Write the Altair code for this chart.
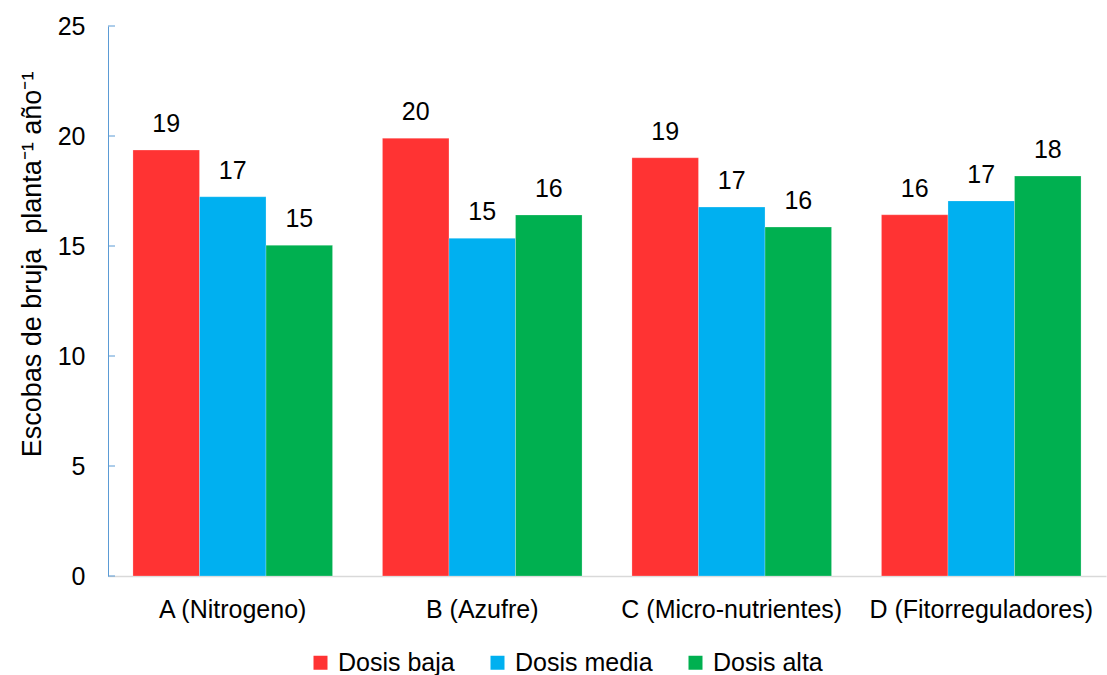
import altair as alt
import pandas as pd

# Treatments (x categories), dose levels (series) and values per dose
categories = ["A (Nitrogeno)", "B (Azufre)", "C (Micro-nutrientes)", "D (Fitorreguladores)"]
doses = ["Dosis baja", "Dosis media", "Dosis alta"]
dosis_baja = [19.36, 19.90, 19.01, 16.42]
dosis_media = [17.24, 15.35, 16.77, 17.05]
dosis_alta = [15.03, 16.41, 15.86, 18.18]
y_ticks = [0, 5, 10, 15, 20, 25]
colors = ["#FF3333", "#00B0F0", "#00B050"]

rows = []
for series, vals in zip(doses, [dosis_baja, dosis_media, dosis_alta]):
    for cat, v in zip(categories, vals):
        rows.append({"Tratamiento": cat, "Dosis": series, "Valor": v})
df = pd.DataFrame(rows)
ticks_df = pd.DataFrame({"t": y_ticks})

FONT = "Liberation Sans"
FS = 25
W, H = 998, 550

x_enc = alt.X(
    "Tratamiento:N",
    sort=categories,
    scale=alt.Scale(paddingInner=0.2, paddingOuter=0.1),
    axis=alt.Axis(
        title=None, labelAngle=0, ticks=False, tickSize=0, labelPadding=41,
        labelBaseline="alphabetic", labelFontSize=FS, labelFont=FONT, labelLimit=0,
        labelColor="#000000", domainColor="#D9D9D9", domainWidth=1.5,
    ),
)
y_scale = alt.Scale(domain=[0, 25])
offset_enc = alt.XOffset("Dosis:N", sort=doses)
color_enc = alt.Color(
    "Dosis:N",
    sort=doses,
    scale=alt.Scale(domain=doses, range=colors),
    legend=alt.Legend(
        title=None, orient="none", direction="horizontal", columns=3,
        legendX=200, legendY=624, symbolType="square", symbolSize=196,
        symbolStrokeWidth=0, symbolOpacity=1, labelFontSize=FS, labelFont=FONT,
        labelColor="#000000", labelOffset=5, columnPadding=30, padding=0,
        labelLimit=0,
    ),
)

bars = alt.Chart(df).mark_bar(stroke="#FFFFFF", strokeWidth=0.4, strokeOpacity=0.6).encode(
    x=x_enc,
    xOffset=offset_enc,
    y=alt.Y(
        "Valor:Q",
        scale=y_scale,
        axis=alt.Axis(
            values=y_ticks, grid=False, ticks=False, tickSize=0, labelPadding=23,
            labelFontSize=FS, labelFont=FONT, labelColor="#000000",
            domainColor="#5B9BD5", domainWidth=1,
            title="Escobas de bruja \u00a0planta⁻¹ año⁻¹",
            titleFont=FONT, titleFontSize=27, titleFontWeight="normal",
            titleColor="#000000", titleAngle=-90, titleX=-68, titleY=238,
            titleAlign="center", titleBaseline="alphabetic", titleLimit=0,
        ),
    ),
    color=color_enc,
)

labels = alt.Chart(df).mark_text(
    baseline="alphabetic", dy=-18, fontSize=FS, font=FONT, color="#000000"
).encode(
    x=alt.X("Tratamiento:N", sort=categories),
    xOffset=offset_enc,
    y=alt.Y("Valor:Q", scale=y_scale),
    text=alt.Text("Valor:Q", format=".0f"),
)

# Inward tick marks on the value axis
y_tick_marks = alt.Chart(ticks_df).mark_rule(color="#5B9BD5", strokeWidth=1).encode(
    y=alt.Y("t:Q", scale=y_scale),
    x=alt.value(0),
    x2=alt.value(7),
)

chart = (
    alt.layer(bars, labels, y_tick_marks)
    .properties(
        width=W,
        height=H,
        autosize=alt.AutoSizeParams(type="none"),
        padding={"left": 108, "top": 26, "right": 1, "bottom": 99},
        background="#FFFFFF",
    )
    .configure_view(stroke=None)
)

chart.save("out.html", embed_options={"renderer": "svg", "actions": False})
